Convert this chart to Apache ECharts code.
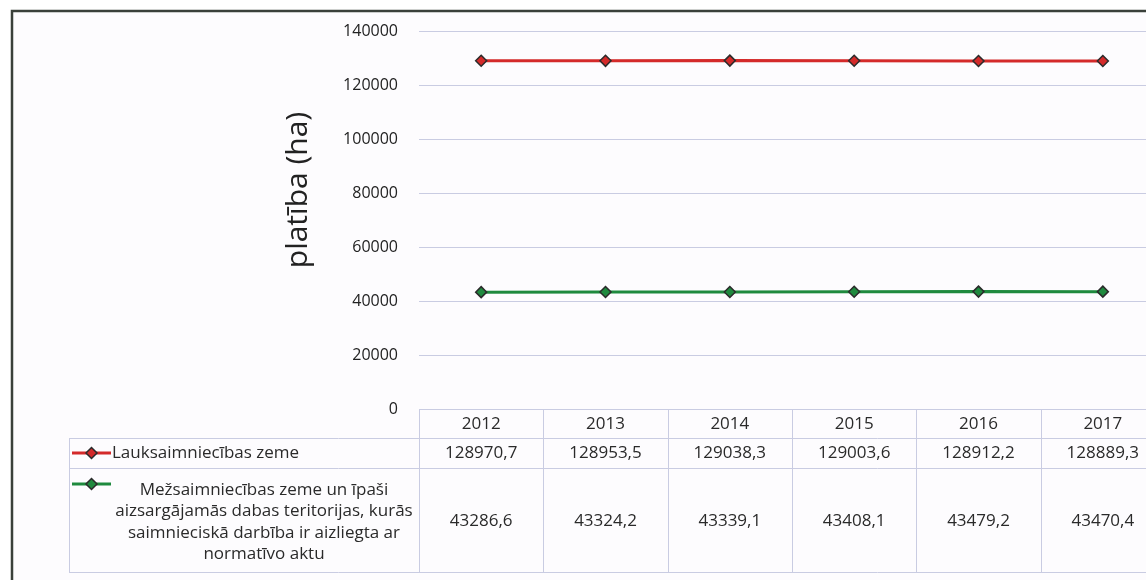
<!DOCTYPE html>
<html>
<head>
<meta charset="utf-8">
<script src="https://cdn.jsdelivr.net/npm/echarts@6/dist/echarts.min.js"></script>
<style>
  html, body { margin: 0; padding: 0; background: #ffffff; }
  #chart { width: 1146px; height: 580px; }
</style>
</head>
<body>
<div id="chart"></div>
<script>
// Land area by type, hectares
const years = ['2012', '2013', '2014', '2015', '2016', '2017'];
const agriLand = [128970.7, 128953.5, 129038.3, 129003.6, 128912.2, 128889.3];
const forestLand = [43286.6, 43324.2, 43339.1, 43408.1, 43479.2, 43470.4];
const seriesNames = [
  'Lauksaimniecības zeme',
  'Mežsaimniecības zeme un īpaši\naizsargājamās dabas teritorijas, kurās\nsaimnieciskā darbība ir aizliegta ar\nnormatīvo aktu'
];
const seriesColors = ['#d42a2a', '#1f8a3e'];
const yMin = 0, yMax = 140000, yStep = 20000;

const FONT = '"Open Sans", Lato, sans-serif';
const GRID = { left: 419, top: 31, width: 746, height: 378 };
const lineCol = '#c9cce2';
const fmt = v => v.toFixed(1).replace('.', ',');

const chart = echarts.init(document.getElementById('chart'), null, { renderer: 'canvas' });

const markerStyle = (c) => ({ color: c, borderColor: '#2b2b2b', borderWidth: 1.5 });

chart.setOption({
  backgroundColor: '#fdfcfe',
  animation: false,
  grid: Object.assign({ outerBoundsMode: 'none', containLabel: false }, GRID),
  xAxis: {
    type: 'category',
    data: years,
    boundaryGap: true,
    axisLine: { show: false },
    axisTick: { show: false },
    axisLabel: { margin: 7, fontFamily: FONT, fontSize: 17, color: '#2a2a2a' }
  },
  yAxis: {
    type: 'value',
    min: yMin, max: yMax, interval: yStep,
    name: 'platība (ha)',
    nameLocation: 'middle',
    nameGap: 106,
    nameTextStyle: { fontFamily: FONT, fontSize: 30, color: '#222', padding: [0, 0, 0, 60] },
    axisLine: { show: false },
    axisTick: { show: false },
    axisLabel: {
      margin: 21, fontFamily: FONT, fontSize: 16, color: '#222',
      formatter: v => String(v)
    },
    splitLine: { lineStyle: { color: lineCol, width: 1 } }
  },
  series: [
    {
      name: seriesNames[0], type: 'line', data: agriLand,
      symbol: 'diamond', symbolSize: 11,
      lineStyle: { color: seriesColors[0], width: 3 },
      itemStyle: markerStyle(seriesColors[0])
    },
    {
      name: seriesNames[1], type: 'line', data: forestLand,
      symbol: 'diamond', symbolSize: 11,
      lineStyle: { color: seriesColors[1], width: 3 },
      itemStyle: markerStyle(seriesColors[1])
    }
  ]
});

// Data table under the plot, aligned to the category bands
function buildTable() {
  const xs = years.map(y => chart.convertToPixel({ xAxisIndex: 0 }, y));
  const band = xs.length > 1 ? xs[1] - xs[0] : GRID.width;
  const tableLeft = 69;
  const headTop = GRID.top + GRID.height;
  const row1Top = headTop + 29;
  const row2Top = row1Top + 30;
  const tableBottom = row2Top + 104;
  const colLeft = xs[0] - band / 2;
  const right = xs[xs.length - 1] + band / 2;
  const els = [];
  const ln = (x1, y1, x2, y2) => els.push({
    type: 'line', silent: true,
    shape: { x1, y1, x2, y2 },
    style: { stroke: lineCol, lineWidth: 1 }
  });
  // horizontal rules
  ln(colLeft, headTop + 0.5, right, headTop + 0.5);
  ln(tableLeft, row1Top + 0.5, right, row1Top + 0.5);
  ln(tableLeft, row2Top + 0.5, right, row2Top + 0.5);
  ln(tableLeft, tableBottom + 0.5, right, tableBottom + 0.5);
  // vertical rules
  ln(tableLeft + 0.5, row1Top, tableLeft + 0.5, tableBottom);
  xs.forEach(x => ln(Math.round(x - band / 2) + 0.5, headTop, Math.round(x - band / 2) + 0.5, tableBottom));

  const txt = (x, y, text, align) => els.push({
    type: 'text', silent: true, x, y,
    style: {
      text, fill: '#2a2a2a', font: '17px ' + FONT,
      align: align || 'center', verticalAlign: 'middle', lineHeight: 21.5
    }
  });
  xs.forEach((x, i) => {
    txt(x, row1Top + 15, fmt(agriLand[i]));
    txt(x, (row2Top + tableBottom) / 2 + 1, fmt(forestLand[i]));
  });

  // legend keys
  const key = (y, c) => {
    els.push({ type: 'line', silent: true, shape: { x1: 72, y1: y, x2: 111, y2: y },
      style: { stroke: c, lineWidth: 3 } });
    els.push({ type: 'polygon', silent: true,
      shape: { points: [[91.5, y - 5.5], [97, y], [91.5, y + 5.5], [86, y]] },
      style: { fill: c, stroke: '#2b2b2b', lineWidth: 1.5 } });
  };
  key(row1Top + 15, seriesColors[0]);
  key(row2Top + 16, seriesColors[1]);
  txt(112, row1Top + 15, seriesNames[0], 'left');
  txt(264, (row2Top + tableBottom) / 2 + 2, seriesNames[1], 'center');

  // outer frame
  els.push({ type: 'rect', silent: true, z: 100,
    shape: { x: 12, y: 11, width: 1200, height: 640 },
    style: { fill: 'none', stroke: '#3a403a', lineWidth: 2.5 } });
  // margin outside the frame
  els.push({ type: 'rect', silent: true, z: 99,
    shape: { x: 0, y: 0, width: 1146, height: 10 }, style: { fill: '#ffffff' } });
  els.push({ type: 'rect', silent: true, z: 99,
    shape: { x: 0, y: 0, width: 11, height: 580 }, style: { fill: '#ffffff' } });

  chart.setOption({ graphic: { elements: els } });
}
buildTable();
</script>
</body>
</html>
